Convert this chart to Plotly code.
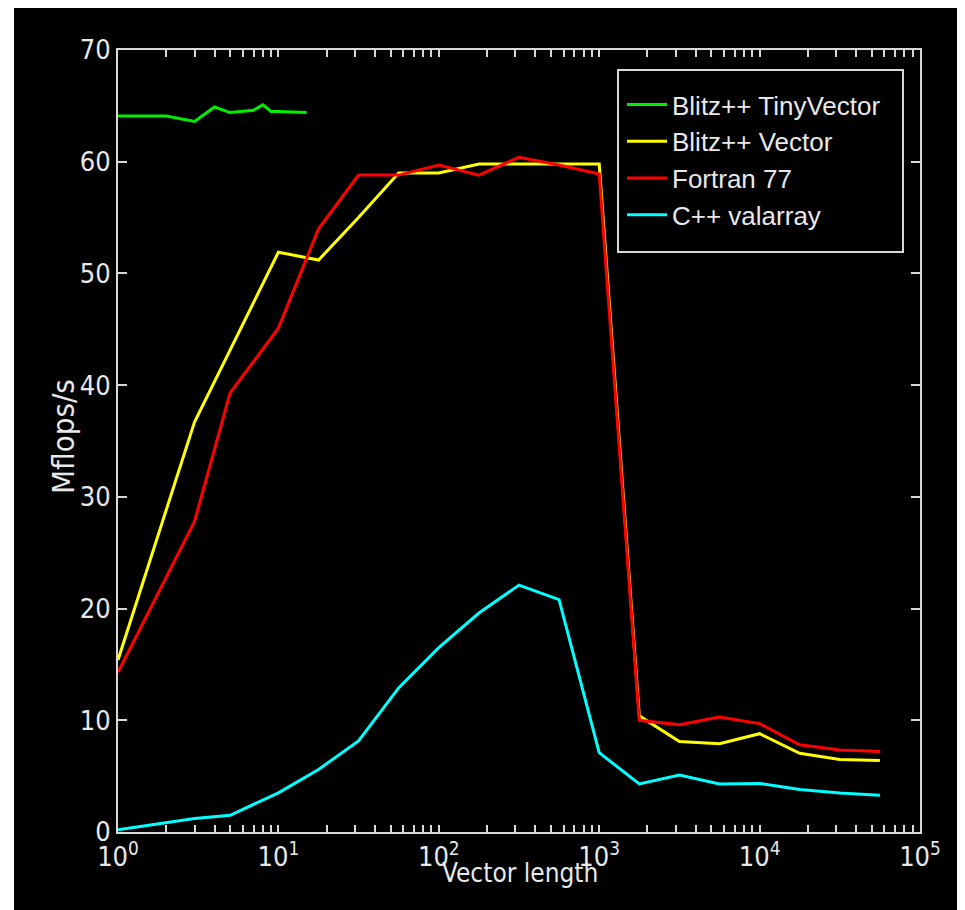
import plotly.graph_objects as go

# ---------------- data ----------------
tiny_n = [1, 2, 3, 4, 5, 6, 7, 8, 9, 10, 15]
tiny_v = [64.1, 64.1, 63.6, 64.9, 64.4, 64.5, 64.6, 65.1, 64.5, 64.5, 64.4]

vec_n = [1, 3, 10, 17.8, 31.6, 56.2, 100, 178, 316, 562, 1000,
         1778, 3162, 5623, 10000, 17783, 31623, 56234]
vec_v = [15.4, 36.7, 51.9, 51.2, 55.0, 59.0, 59.0, 59.8, 59.8, 59.8, 59.8,
         10.4, 8.1, 7.9, 8.8, 7.05, 6.5, 6.4]

f77_n = [1, 3, 5, 10, 17.8, 31.6, 56.2, 100, 178, 316, 562, 1000,
         1778, 3162, 5623, 10000, 17783, 31623, 56234]
f77_v = [14.3, 27.8, 39.3, 45.1, 54.0, 58.8, 58.8, 59.7, 58.8, 60.4, 59.7, 58.9,
         10.0, 9.6, 10.3, 9.7, 7.8, 7.35, 7.2]

val_n = [1, 3, 5, 10, 17.8, 31.6, 56.2, 100, 178, 316, 562, 1000,
         1778, 3162, 5623, 10000, 17783, 31623, 56234]
val_v = [0.2, 1.2, 1.5, 3.5, 5.6, 8.15, 12.9, 16.5, 19.6, 22.1, 20.8, 7.1,
         4.3, 5.1, 4.3, 4.35, 3.8, 3.5, 3.3]

series_names = ["Blitz++ TinyVector", "Blitz++ Vector", "Fortran 77", "C++ valarray"]
series_colors = ["#00ee00", "#ffff00", "#ff0000", "#00ffff"]

x_tickvals = [1, 10, 100, 1000, 10000, 100000]
x_ticktext = ["10<sup>0</sup>", "10<sup>1</sup>", "10<sup>2</sup>",
              "10<sup>3</sup>", "10<sup>4</sup>", "10<sup>5</sup>"]
x_minor_vals = [m * 10 ** d for d in range(5) for m in range(2, 10)]
y_tickvals = [0, 10, 20, 30, 40, 50, 60, 70]

# major + unlabeled minor ticks on the log axis
x_all_vals = x_tickvals + x_minor_vals
x_all_text = x_ticktext + [""] * len(x_minor_vals)

# ---------------- figure ----------------
OFF = 8  # page body margin
W, H = 965 - OFF, 910 - OFF
L, R, T, B = 118 - OFF, 45, 50 - OFF, 78
pw, ph = W - L - R, H - T - B


def px_x(px):
    return (px - OFF - L) / pw


def px_y(py):
    return (H - B - (py - OFF)) / ph


FONT = "DejaVu Sans Condensed, Liberation Sans Narrow, sans-serif"
TXT = "#e8e8e8"
AX = "#d8d8d8"

fig = go.Figure()
data = [(tiny_n, tiny_v), (vec_n, vec_v), (f77_n, f77_v), (val_n, val_v)]
for i, (xs, ys) in enumerate(data):
    fig.add_trace(go.Scatter(
        x=xs, y=ys, mode="lines", name=series_names[i],
        line=dict(color=series_colors[i], width=3),
    ))

fig.update_layout(
    width=W, height=H,
    margin=dict(l=L, r=R, t=T, b=B, autoexpand=False),
    paper_bgcolor="white",
    plot_bgcolor="black",
    font=dict(family=FONT, size=28, color=TXT),
    showlegend=True,
    legend=dict(
        x=px_x(622), y=px_y(81), xanchor="left", yanchor="top",
        bgcolor="rgba(0,0,0,0)", borderwidth=0,
        font=dict(family="Liberation Sans, Arial, sans-serif", size=26, color=TXT),
        itemwidth=40, tracegroupgap=0,
    ),
    shapes=[
        dict(type="rect", xref="paper", yref="paper",
             x0=px_x(14), x1=px_x(965), y0=px_y(910), y1=px_y(8),
             fillcolor="black", line=dict(width=0), layer="below"),
        dict(type="rect", xref="paper", yref="paper",
             x0=px_x(618), x1=px_x(903), y0=px_y(252), y1=px_y(70),
             fillcolor="black", line=dict(color=AX, width=2), layer="above"),
    ],
    annotations=[
        dict(text="Vector length", xref="paper", yref="paper",
             x=px_x(520), y=px_y(873), xanchor="center", yanchor="middle",
             showarrow=False, font=dict(family=FONT, size=26, color=TXT)),
        dict(text="Mflops/s", xref="paper", yref="paper",
             x=px_x(63), y=px_y(437), xanchor="center", yanchor="middle",
             textangle=-90, showarrow=False,
             font=dict(family=FONT, size=31, color=TXT)),
    ],
    xaxis=dict(
        type="log", range=[0, 5],
        tickmode="array", tickvals=x_all_vals, ticktext=x_all_text,
        ticks="inside", ticklen=7, tickwidth=2, tickcolor=AX,
        showline=True, linecolor=AX, linewidth=2, mirror="ticks",
        showgrid=False, zeroline=False,
        tickfont=dict(family=FONT, size=27, color=TXT),
    ),
    yaxis=dict(
        range=[0, 70], tickmode="array", tickvals=y_tickvals,
        ticks="inside", ticklen=9, tickwidth=2, tickcolor=AX,
        showline=True, linecolor=AX, linewidth=2, mirror="ticks",
        showgrid=False, zeroline=False,
        tickfont=dict(family=FONT, size=27, color=TXT),
    ),
)

fig.write_html("out.html")
